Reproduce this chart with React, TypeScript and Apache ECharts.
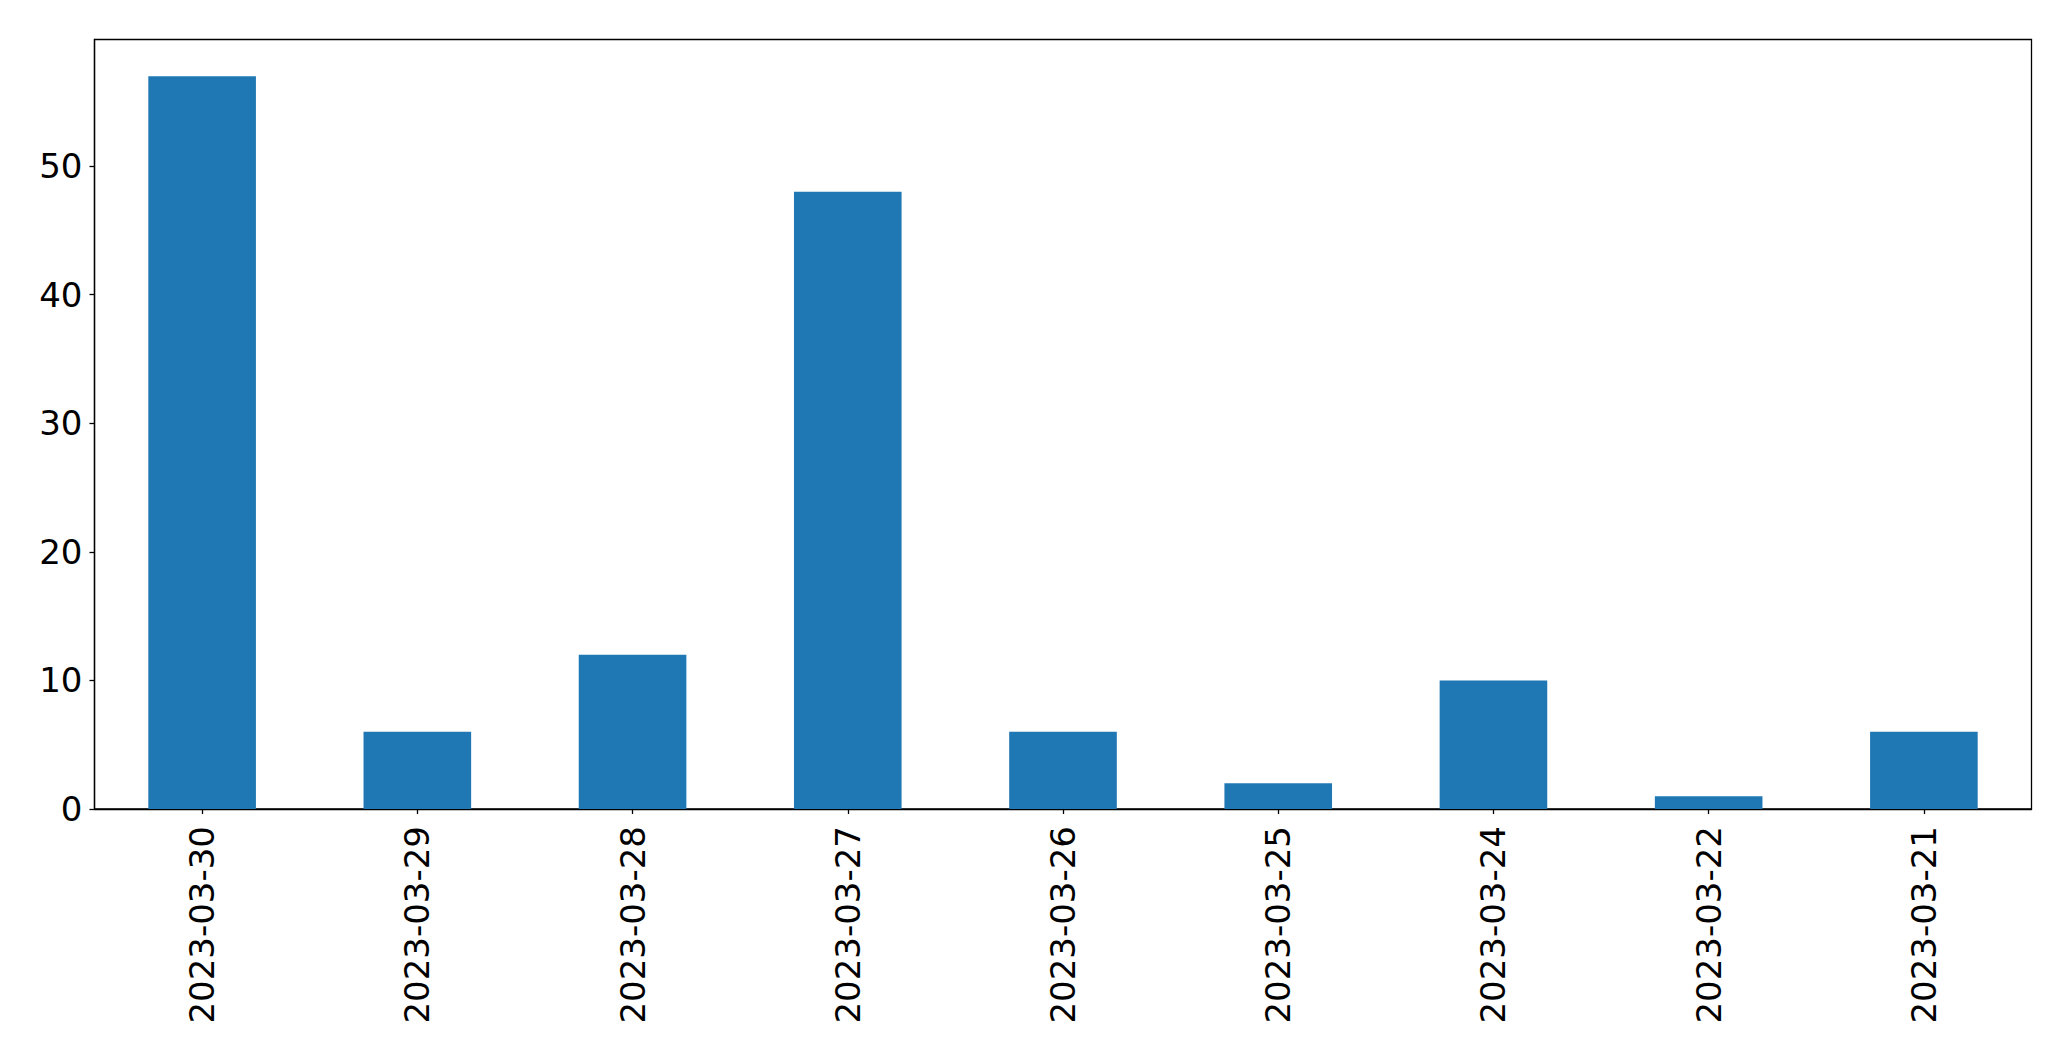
import React, { useEffect, useRef } from "react";
import * as echarts from "echarts";

const categories = [
  "2023-03-30",
  "2023-03-29",
  "2023-03-28",
  "2023-03-27",
  "2023-03-26",
  "2023-03-25",
  "2023-03-24",
  "2023-03-22",
  "2023-03-21",
];
const counts = [57, 6, 12, 48, 6, 2, 10, 1, 6];
const yTicks = [0, 10, 20, 30, 40, 50];
const yMax = 59.85;

export default function App() {
  const ref = useRef<HTMLDivElement>(null);
  useEffect(() => {
    document.body.style.margin = "0";
    const chart = echarts.init(ref.current!, null, { renderer: "svg" });
    const font = "DejaVu Sans";
    chart.setOption({
      animation: false,
      backgroundColor: "#ffffff",
      grid: {
        left: 94.5,
        top: 39.5,
        right: 39.5,
        bottom: 252,
        show: true,
        borderColor: "#000000",
        borderWidth: 1.3,
        backgroundColor: "transparent",
      },
      xAxis: {
        type: "category",
        data: categories,
        boundaryGap: true,
        axisLine: { show: true, lineStyle: { color: "#000000", width: 1.3 } },
        axisTick: { show: true, alignWithLabel: true, length: 5, lineStyle: { color: "#000000", width: 1.3 } },
        axisLabel: {
          rotate: 90,
          margin: 17,
          fontSize: 34,
          fontFamily: font,
          color: "#000000",
          interval: 0,
        },
        splitLine: { show: false },
      },
      yAxis: {
        type: "value",
        min: 0,
        max: yMax,
        axisLine: { show: true, lineStyle: { color: "#000000", width: 1.3 } },
        axisTick: { show: true, length: 5, customValues: yTicks, lineStyle: { color: "#000000", width: 1.3 } },
        axisLabel: {
          customValues: yTicks,
          margin: 12,
          fontSize: 34,
          fontFamily: font,
          color: "#000000",
        },
        splitLine: { show: false },
      },
      series: [
        {
          type: "bar",
          data: counts,
          barWidth: "50%",
          itemStyle: { color: "#1f77b4" },
        },
      ],
    });
    return () => chart.dispose();
  }, []);
  return (
    <div
      ref={ref}
      style={{ position: "fixed", left: 0, top: 0, width: 2071, height: 1061, background: "#fff" }}
    />
  );
}
